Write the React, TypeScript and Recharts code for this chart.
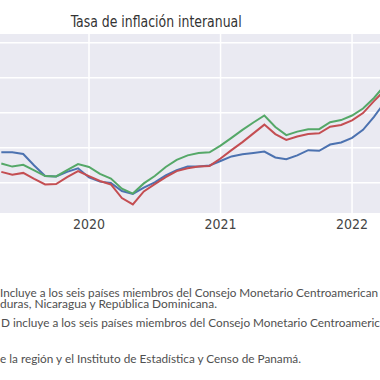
import React from "react";
import { LineChart, Line, XAxis, YAxis, CartesianGrid } from "recharts";

// meses contados desde enero 2020 (= 0)
const meses = [-8, -7, -6, -5, -4, -3, -2, -1, 0, 1, 2, 3, 4, 5, 6, 7, 8, 9, 10, 11, 12, 13, 14, 15, 16, 17, 18, 19, 20, 21, 22, 23, 24, 25, 26, 27];

// tasa de inflación interanual (%)
const serieAzul = [1.87, 1.87, 1.82, 1.49, 1.19, 1.18, 1.31, 1.41, 1.15, 1.03, 0.99, 0.76, 0.68, 0.86, 1.01, 1.21, 1.36, 1.46, 1.46, 1.49, 1.62, 1.75, 1.81, 1.85, 1.89, 1.72, 1.67, 1.78, 1.93, 1.91, 2.09, 2.15, 2.28, 2.51, 2.88, 3.31];
const serieVerde = [1.55, 1.46, 1.51, 1.35, 1.19, 1.18, 1.36, 1.53, 1.45, 1.25, 1.12, 0.83, 0.69, 0.98, 1.19, 1.45, 1.65, 1.78, 1.85, 1.87, 2.06, 2.28, 2.51, 2.72, 2.92, 2.59, 2.36, 2.46, 2.53, 2.53, 2.73, 2.79, 2.92, 3.12, 3.42, 3.79];
const serieRoja = [1.31, 1.23, 1.28, 1.11, 0.95, 0.96, 1.16, 1.33, 1.19, 1.05, 0.95, 0.56, 0.38, 0.75, 0.96, 1.16, 1.33, 1.41, 1.46, 1.48, 1.69, 1.93, 2.16, 2.41, 2.66, 2.39, 2.22, 2.32, 2.39, 2.41, 2.60, 2.65, 2.78, 2.99, 3.33, 3.65];

const ticksAnios = [0, 12, 24];
const lineasY = [1, 2, 3, 4, 5];

const titulo = "Tasa de inflación interanual";
const notas = [
  { texto: "Incluye a los seis países miembros del Consejo Monetario Centroamerican", x: 0, y: 297, ancho: 378 },
  { texto: "duras, Nicaragua y República Dominicana.", x: 0, y: 308, ancho: 217 },
  { texto: "D incluye a los seis países miembros del Consejo Monetario Centroameric", x: 1, y: 327, ancho: 379 },
  { texto: "e la región y el Instituto de Estadística y Censo de Panamá.", x: 0, y: 363, ancho: 301 },
];

const data = meses.map((m, i) => ({
  mes: m,
  azul: serieAzul[i],
  verde: serieVerde[i],
  roja: serieRoja[i],
}));

const narrow = "'Liberation Sans Narrow', 'DejaVu Sans Condensed', 'Liberation Sans', sans-serif";

const App = () => {
  return (
    <div style={{ position: "absolute", left: 0, top: 0, width: 380, height: 380, overflow: "hidden", background: "#fff" }}>
      <LineChart width={380} height={240} data={data} margin={{ top: 34, right: 0, left: 0, bottom: 0 }}>
        <CartesianGrid
          fill="#eaeaf2"
          stroke="#ffffff"
          strokeWidth={1.5}
          horizontalValues={lineasY}
          verticalValues={ticksAnios}
        />
        <XAxis
          dataKey="mes"
          type="number"
          domain={[-8.12, 26.55]}
          allowDataOverflow
          ticks={ticksAnios}
          tickFormatter={(m: number) => String(2020 + m / 12)}
          axisLine={false}
          tickLine={false}
          tickSize={0}
          tickMargin={6}
          height={27}
          tick={{ fill: "#444", fontSize: 14, fontFamily: narrow }}
        />
        <YAxis hide type="number" domain={[0.134, 5.249]} allowDataOverflow width={0} />
        <Line type="linear" dataKey="azul" stroke="#4c72b0" strokeWidth={2} dot={false} isAnimationActive={false} />
        <Line type="linear" dataKey="roja" stroke="#c44e52" strokeWidth={2} dot={false} isAnimationActive={false} />
        <Line type="linear" dataKey="verde" stroke="#55a868" strokeWidth={2} dot={false} isAnimationActive={false} />
      </LineChart>
      <svg width={380} height={380} style={{ position: "absolute", left: 0, top: 0, pointerEvents: "none" }}>
        <text x={70.7} y={27} fontSize={15} fill="#333" fontFamily={narrow} textLength={171} lengthAdjust="spacingAndGlyphs">
          {titulo}
        </text>
        {notas.map((n) => (
          <text key={n.texto} x={n.x} y={n.y} fontSize={10.5} fill="#505050" fontFamily="Lato, 'Noto Sans', sans-serif" textLength={n.ancho} lengthAdjust="spacingAndGlyphs">
            {n.texto}
          </text>
        ))}
      </svg>
    </div>
  );
};

export default App;
